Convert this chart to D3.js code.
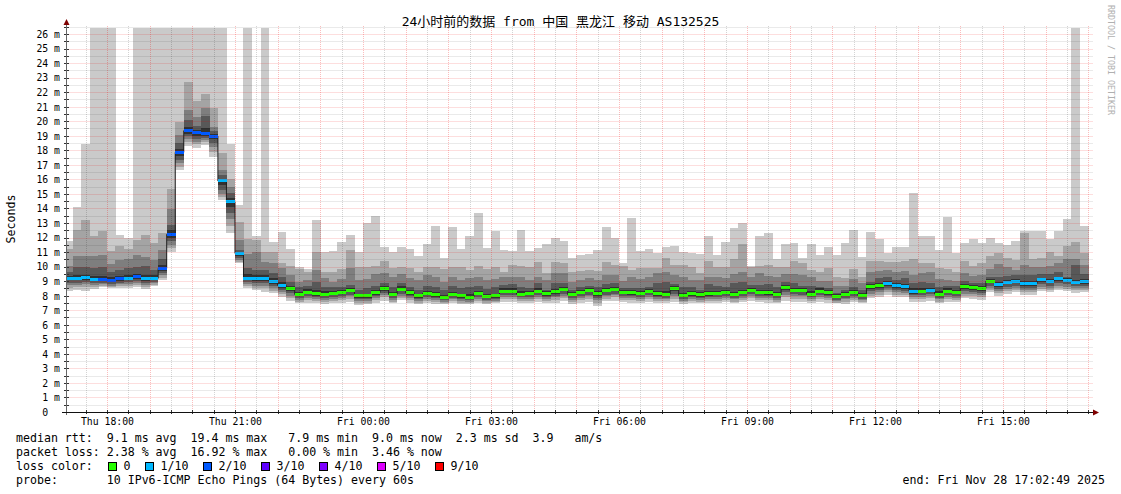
<!DOCTYPE html>
<html>
<head>
<meta charset="utf-8">
<script src="https://cdn.jsdelivr.net/npm/d3@7"></script>
<style>
  body { margin: 0; background: #fff; }
  svg text { font-family: "DejaVu Sans Mono", "Noto Sans CJK SC", monospace; fill: #000; }
  .pre { white-space: pre; }
</style>
</head>
<body>
<svg id="chart" width="1121" height="494"></svg>
<script>
// 10 pings per 12-minute slot, sorted low (ping1) to high (ping10), in ms. 30 = off the top of the chart
const ping1 = [8.3,8.4,8.35,8.45,8.6,8.5,8.5,8.5,8.6,8.45,8.65,9.08,11.0,16.64,18.3,18.13,18.36,17.56,14.58,12.3,10.22,8.5,8.4,8.28,8.2,7.93,
  7.66,7.47,7.5,7.5,7.45,7.5,7.52,7.6,7.36,7.4,7.52,7.66,7.47,7.7,7.52,7.43,7.47,7.45,7.43,7.5,7.43,7.43,7.5,7.43,7.47,7.6,7.6,7.5,
  7.5,7.6,7.47,7.52,7.66,7.43,7.52,7.6,7.29,7.66,7.66,7.6,7.52,7.52,7.6,7.52,7.52,7.6,7.43,7.52,7.47,7.52,7.52,7.6,7.47,7.6,7.66,7.6,
  7.52,7.47,7.66,7.6,7.6,7.52,7.6,7.52,7.47,7.43,7.6,7.47,7.82,7.93,8.05,7.93,7.9,7.6,7.6,7.66,7.47,7.6,7.56,7.82,7.78,7.72,8.22,8.0,
  8.15,8.22,8.08,8.08,8.3,8.22,8.38,8.3,8.2,8.22];
const ping2 = [8.55,8.6,8.6,8.6,8.7,8.6,8.65,8.65,8.75,8.6,8.75,9.25,11.25,16.85,18.55,18.4,18.55,17.9,14.8,12.8,10.35,8.65,8.55,8.5,8.35,8.1,
  7.85,7.6,7.7,7.65,7.6,7.65,7.7,7.8,7.5,7.52,7.7,7.9,7.6,7.85,7.7,7.5,7.65,7.58,7.5,7.62,7.52,7.5,7.65,7.52,7.55,7.78,7.78,7.64,
  7.65,7.78,7.65,7.72,7.85,7.6,7.7,7.8,7.5,7.8,7.88,7.72,7.7,7.65,7.78,7.65,7.62,7.8,7.55,7.65,7.6,7.65,7.66,7.72,7.6,7.72,7.82,7.72,
  7.7,7.6,7.88,7.8,7.8,7.64,7.78,7.7,7.52,7.6,7.72,7.58,8.0,8.08,8.22,8.08,8.05,7.76,7.78,7.82,7.6,7.78,7.72,8.0,7.95,7.9,8.4,8.18,
  8.32,8.4,8.25,8.25,8.48,8.4,8.55,8.48,8.38,8.4];
const ping3 = [8.75,8.75,8.8,8.72,8.78,8.7,8.78,8.8,8.9,8.75,8.85,9.4,11.5,17.1,18.75,18.6,18.7,18.2,15.0,13.3,10.45,8.8,8.7,8.7,8.5,8.25,
  8.0,7.72,7.85,7.78,7.72,7.78,7.85,7.95,7.62,7.65,7.82,8.05,7.72,8.0,7.82,7.62,7.78,7.7,7.58,7.75,7.65,7.58,7.78,7.62,7.65,7.92,7.92,7.76,
  7.78,7.92,7.78,7.88,8.0,7.72,7.85,7.95,7.7,7.95,8.02,7.85,7.82,7.78,7.92,7.78,7.75,7.98,7.66,7.78,7.72,7.78,7.8,7.86,7.75,7.86,7.96,7.86,
  7.82,7.72,8.06,7.96,7.95,7.76,7.92,7.82,7.62,7.74,7.86,7.7,8.15,8.22,8.38,8.22,8.2,7.9,7.92,7.96,7.74,7.92,7.86,8.15,8.1,8.05,8.55,8.32,
  8.48,8.55,8.4,8.4,8.62,8.55,8.7,8.62,8.52,8.54];
const ping4 = [8.9,8.9,8.95,8.85,8.88,8.8,8.9,8.92,9.02,8.88,8.95,9.55,11.75,17.35,18.95,18.8,18.85,18.5,15.3,13.7,10.6,8.92,8.85,8.85,8.65,8.4,
  8.2,7.85,7.98,7.9,7.85,7.9,7.98,8.08,7.75,7.75,7.95,8.18,7.85,8.15,7.95,7.75,7.9,7.82,7.68,7.85,7.75,7.68,7.9,7.72,7.75,8.05,8.05,7.88,
  7.9,8.05,7.9,8.0,8.15,7.85,7.98,8.08,7.85,8.08,8.15,7.98,7.95,7.9,8.05,7.9,7.85,8.15,7.78,7.9,7.82,7.9,7.92,7.98,7.85,7.98,8.1,7.98,
  7.95,7.85,8.22,8.1,8.08,7.88,8.05,7.95,7.72,7.86,7.98,7.8,8.3,8.38,8.52,8.38,8.35,8.02,8.05,8.1,7.86,8.05,7.98,8.3,8.25,8.2,8.7,8.48,
  8.62,8.7,8.55,8.55,8.78,8.7,8.85,8.78,8.66,8.68];
const ping5 = [9.05,9.05,9.1,8.98,8.98,8.92,9.02,9.05,9.15,9.0,9.05,9.7,12.0,17.6,19.15,19.0,19.0,18.75,15.6,14.1,10.75,9.05,9.0,9.0,8.8,8.55,
  8.35,7.95,8.1,8.0,7.95,8.02,8.1,8.22,7.85,7.85,8.08,8.32,7.95,8.3,8.08,7.85,8.02,7.92,7.78,7.95,7.85,7.78,8.02,7.82,7.85,8.18,8.18,7.98,
  8.02,8.18,8.0,8.12,8.3,7.95,8.1,8.22,8.0,8.22,8.3,8.1,8.08,8.02,8.18,8.0,7.95,8.32,7.88,8.0,7.92,8.0,8.05,8.1,7.95,8.1,8.24,8.1,
  8.08,7.95,8.38,8.24,8.22,7.98,8.18,8.08,7.82,7.98,8.1,7.9,8.45,8.52,8.68,8.52,8.48,8.15,8.18,8.24,7.98,8.18,8.1,8.45,8.4,8.35,8.85,8.62,
  8.78,8.85,8.7,8.7,8.92,8.85,9.0,8.92,8.8,8.82];
const ping6 = [9.35,9.42,9.45,9.35,9.35,9.3,9.35,9.4,9.5,9.45,9.45,10.1,12.5,18.1,19.6,19.4,19.5,19.1,16.05,14.7,11.0,9.5,9.4,9.4,9.2,8.95,
  8.7,8.28,8.45,8.4,8.3,8.35,8.42,8.55,8.15,8.15,8.4,8.65,8.28,8.65,8.38,8.15,8.35,8.25,8.08,8.28,8.15,8.1,8.35,8.12,8.15,8.5,8.5,8.3,
  8.35,8.5,8.3,8.45,8.6,8.25,8.4,8.52,8.3,8.52,8.6,8.4,8.38,8.32,8.48,8.32,8.3,8.65,8.18,8.3,8.22,8.32,8.35,8.42,8.28,8.42,8.55,8.4,
  8.4,8.25,8.72,8.55,8.52,8.3,8.5,8.38,8.1,8.28,8.42,8.2,8.78,8.85,9.0,8.85,8.8,8.5,8.5,8.55,8.3,8.5,8.42,8.78,8.72,8.68,9.15,8.95,
  9.08,9.15,9.02,9.02,9.25,9.18,9.32,9.2,9.1,9.12];
const ping7 = [9.6,10.0,9.95,9.9,9.95,9.6,9.75,9.9,10.0,10.05,9.8,10.5,12.85,18.5,20.1,19.67,20.35,19.3,16.3,15.05,11.15,9.9,9.77,9.75,9.55,9.3,
  8.96,8.57,8.67,8.96,8.62,8.57,8.62,8.73,8.39,8.5,8.67,8.85,8.57,8.9,8.57,8.39,8.67,8.57,8.39,8.67,8.5,8.62,8.67,8.44,8.57,8.73,8.8,8.57,
  8.5,8.85,8.39,8.9,8.85,8.39,8.57,8.67,8.57,8.8,8.85,8.5,8.5,8.5,8.62,8.85,8.96,8.8,8.62,8.62,8.39,8.8,8.67,8.57,8.9,8.96,8.73,8.73,
  8.8,8.57,8.96,8.85,8.67,8.67,8.62,8.5,8.16,8.39,8.57,8.39,8.96,9.19,9.26,9.08,9.2,8.85,8.96,8.9,8.6,8.7,8.65,9.0,8.9,8.85,9.3,9.3,
  9.35,9.4,9.4,9.4,9.5,9.5,9.6,9.3,10.13,9.5];
const ping8 = [10.05,10.73,10.75,10.7,10.8,10.2,10.45,10.55,10.8,10.65,10.45,11.15,13.95,19.05,20.77,20.3,20.88,19.62,16.64,15.5,11.85,10.9,11.0,10.34,10.22,9.88,
  9.42,8.96,9.08,9.77,9.19,8.96,9.12,9.88,9.08,9.12,9.49,9.54,9.31,9.49,9.19,9.08,9.42,9.31,8.96,9.31,9.08,9.19,9.31,9.08,9.12,9.26,9.31,9.31,
  9.08,9.31,9.08,9.54,9.54,8.96,9.08,9.19,9.08,9.42,9.42,9.03,9.26,9.12,9.26,9.54,9.65,9.42,9.31,9.08,9.08,9.31,9.26,9.19,9.49,9.65,9.26,9.58,
  9.35,9.26,9.49,9.49,9.42,9.31,9.03,9.03,8.67,8.67,9.12,8.85,9.65,9.72,9.77,9.65,9.72,9.42,9.58,9.63,9.12,9.08,9.03,9.54,9.38,9.42,9.83,10.2,
  9.95,9.8,10.1,9.95,9.95,10.04,10.22,10.55,10.55,10.1];
const ping9 = [11.2,12.5,13.2,12.1,12.45,11.05,11.4,11.2,11.85,12.17,11.6,12.3,15.35,19.97,22.72,21.39,21.87,20.93,17.84,16.0,13.1,11.88,11.83,11.03,11.03,10.22,
  10.04,9.81,9.65,11.03,9.65,9.65,9.81,11.14,10.0,10.0,10.04,10.39,9.88,9.95,9.88,9.65,9.95,9.95,9.81,10.0,9.95,9.77,10.04,9.81,10.0,9.65,10.11,10.04,
  10.0,10.34,9.58,10.34,10.27,9.65,9.72,9.77,9.72,10.34,10.11,10.04,9.77,9.88,9.88,9.88,10.57,10.11,10.11,9.95,9.54,10.41,9.95,10.0,10.5,11.55,9.95,10.04,
  10.11,9.95,9.95,10.41,10.27,9.77,9.65,9.88,9.31,9.19,9.81,9.31,10.41,10.41,10.34,10.34,10.41,10.5,10.27,10.22,9.88,9.81,9.65,10.41,10.06,10.27,10.73,10.96,
  10.57,10.45,12.33,10.55,10.6,11.0,10.73,11.4,11.7,10.96];
const ping10 = [11.76,14.08,18.43,30,30,30,12.17,11.94,30,30,30,30,30,30,30,30,30,30,30,18.43,14.24,30,12.1,30,11.71,12.4,
  11.21,9.95,9.81,13.2,11.03,11.1,11.71,12.17,11.03,13.02,13.5,11.37,11.03,11.32,11.19,10.73,11.55,12.79,10.57,12.75,11.19,12.1,13.71,11.26,12.47,11.14,11.1,12.52,
  11.07,11.26,11.53,11.99,11.76,10.57,10.8,10.87,11.14,12.75,11.99,10.27,13.37,11.07,11.21,10.91,11.32,11.44,11.03,10.96,10.87,12.1,10.78,11.69,12.68,13.02,10.06,12.1,
  12.33,10.52,11.55,11.65,10.57,11.55,10.8,11.32,10.8,11.6,12.52,10.64,12.4,11.88,10.96,11.37,11.37,15.08,12.1,12.1,11.14,13.43,10.96,11.65,11.88,11.65,12.0,11.65,
  11.48,11.76,12.45,12.45,12.45,11.88,12.45,13.27,30,12.8];
const median = [9.19,9.19,9.24,9.1,9.08,9.03,9.17,9.19,9.31,9.15,9.19,9.88,12.22,17.86,19.35,19.21,19.17,18.98,15.89,14.47,10.91,9.19,9.15,9.19,8.96,8.71,
  8.5,8.09,8.23,8.14,8.09,8.16,8.25,8.37,7.98,7.98,8.21,8.48,8.09,8.46,8.21,7.98,8.16,8.05,7.89,8.09,7.98,7.89,8.16,7.93,7.98,8.32,8.32,8.11,
  8.16,8.32,8.14,8.28,8.46,8.07,8.23,8.37,8.14,8.37,8.46,8.23,8.21,8.16,8.32,8.14,8.09,8.5,8.0,8.14,8.05,8.14,8.18,8.25,8.09,8.25,8.39,8.23,
  8.23,8.07,8.55,8.39,8.37,8.11,8.32,8.21,7.93,8.11,8.25,8.02,8.6,8.67,8.83,8.67,8.62,8.3,8.32,8.39,8.11,8.32,8.25,8.6,8.55,8.5,9.0,8.78,
  8.92,9.0,8.85,8.85,9.08,9.0,9.15,9.06,8.94,8.96];
// lost pings out of 10 in each slot
const lossCount = [1,1,1,1,2,2,2,1,2,1,1,2,2,2,2,2,2,2,1,1,1,1,1,1,1,1,
  0,0,0,0,0,0,0,0,0,0,0,0,0,0,0,0,0,0,0,0,0,0,0,0,0,0,0,0,
  0,0,0,0,0,0,0,0,0,0,0,0,0,0,0,0,0,0,0,0,0,0,0,0,0,0,0,0,
  0,0,0,0,0,0,0,0,0,0,0,0,0,0,1,1,1,1,0,1,0,0,0,0,0,0,0,1,1,1,
  1,1,1,1,1,1,1,1,1,1];

const lossSteps = [0, 1, 2, 3, 4, 5, 9];
const lossLabels = ["0", "1/10", "2/10", "3/10", "4/10", "5/10", "9/10"];
const lossColors = ["#26ff00", "#00b8ff", "#0059ff", "#5e00ff", "#7e00ff", "#dd00ff", "#ff0000"];

const yTicks = d3.range(0, 27);
const xTickLabels = ["Thu 18:00", "Thu 21:00", "Fri 00:00", "Fri 03:00", "Fri 06:00", "Fri 09:00", "Fri 12:00", "Fri 15:00"];

const titleText = "24小时前的数据 from 中国 黑龙江 移动 AS132525";
const statLines = [
  "median rtt:  9.1 ms avg  19.4 ms max   7.9 ms min  9.0 ms now  2.3 ms sd  3.9   am/s",
  "packet loss: 2.38 % avg  16.92 % max   0.00 % min  3.46 % now"
];
const probeLine = "probe:       10 IPv6-ICMP Echo Pings (64 Bytes) every 60s";
const endLine = "end: Fri Nov 28 17:02:49 2025";

// time frame
const slotMs = 12 * 60 * 1000;
const firstSlot = Date.UTC(2025, 10, 27, 17, 0, 0);
const viewStart = new Date(Date.UTC(2025, 10, 27, 17, 2, 49));
const viewEnd = new Date(Date.UTC(2025, 10, 28, 17, 2, 49));

const svg = d3.select("#chart");
const pLeft = 66.5, pRight = 1090.3, pBottom = 412, pTop = 26;

const x = d3.scaleUtc().domain([viewStart, viewEnd]).range([66.3, 1090.3]);
const y = d3.scaleLinear().domain([0, 26.55]).range([pBottom, pTop]);

const pings = [ping1, ping2, ping3, ping4, ping5, ping6, ping7, ping8, ping9, ping10];
const slots = median.map((m, i) => ({
  t0: new Date(firstSlot + i * slotMs),
  t1: new Date(firstSlot + (i + 1) * slotMs),
  med: m,
  loss: lossCount[i],
  p: pings.map(a => a[i])
}));

svg.append("defs").append("clipPath").attr("id", "plot")
  .append("rect").attr("x", pLeft).attr("y", 28).attr("width", pRight - pLeft).attr("height", pBottom - 28);

const plot = svg.append("g").attr("clip-path", "url(#plot)");

// smoke: outer pair lightest, inner pair darkest
const smokeColors = ["#cacaca", "#a4a4a4", "#7e7e7e", "#585858", "#323232"];
smokeColors.forEach(function(col, j) {
  plot.append("g").attr("shape-rendering", "crispEdges")
    .selectAll("rect").data(slots).enter().append("rect")
    .attr("x", d => x(d.t0))
    .attr("width", d => x(d.t1) - x(d.t0) + 0.3)
    .attr("y", d => y(d.p[9 - j]))
    .attr("height", d => y(d.p[j]) - y(d.p[9 - j]))
    .attr("fill", col);
});

// grid, drawn over the smoke like rrdtool does
const grid = svg.append("g").attr("fill", "none").attr("stroke-width", 1).attr("stroke-dasharray", "1,1");
const halfHours = x.ticks(d3.utcMinute.every(30));
const hours = x.ticks(d3.utcHour.every(1));
const minorY = d3.range(0.5, 26.6, 1);
const minorStroke = "rgba(0,0,0,0.17)", majorStroke = "rgba(240,0,0,0.26)";

grid.selectAll(".vmin").data(halfHours.filter(t => t.getUTCMinutes() === 30)).enter().append("line")
  .attr("x1", d => Math.round(x(d)) + 0.5).attr("x2", d => Math.round(x(d)) + 0.5)
  .attr("y1", pTop).attr("y2", pBottom).attr("stroke", minorStroke);
grid.selectAll(".hmin").data(minorY).enter().append("line")
  .attr("x1", pLeft).attr("x2", 1093)
  .attr("y1", d => Math.round(y(d)) + 0.5).attr("y2", d => Math.round(y(d)) + 0.5)
  .attr("stroke", minorStroke);
grid.selectAll(".vmaj").data(hours).enter().append("line")
  .attr("x1", d => Math.round(x(d)) + 0.5).attr("x2", d => Math.round(x(d)) + 0.5)
  .attr("y1", pTop).attr("y2", pBottom).attr("stroke", majorStroke);
grid.selectAll(".hmaj").data(yTicks.slice(1)).enter().append("line")
  .attr("x1", pLeft).attr("x2", 1093)
  .attr("y1", d => Math.round(y(d)) + 0.5).attr("y2", d => Math.round(y(d)) + 0.5)
  .attr("stroke", majorStroke);

// median line and loss coloured band
const medLine = d3.line().curve(d3.curveStepAfter)
  .x(d => x(d[0])).y(d => y(d[1]));
const medPts = slots.map(d => [d.t0, d.med]).concat([[slots[slots.length - 1].t1, median[median.length - 1]]]);
plot.append("path").attr("d", medLine(medPts))
  .attr("fill", "none").attr("stroke", "#202020").attr("stroke-width", 1);

plot.append("g").attr("shape-rendering", "crispEdges")
  .selectAll("rect").data(slots).enter().append("rect")
  .attr("x", d => x(d.t0))
  .attr("width", d => x(d.t1) - x(d.t0) + 0.3)
  .attr("y", d => y(d.med) - 1.5)
  .attr("height", 3)
  .attr("fill", d => lossColors[lossSteps.indexOf(d.loss)]);

// axes
const yAxis = svg.append("g").attr("transform", "translate(60,0)")
  .call(d3.axisLeft(y).tickValues(yTicks).tickSize(0).tickPadding(0)
    .tickFormat(d => d === 0 ? "0\u00a0\u00a0" : d + "\u00a0m"));
yAxis.select(".domain").remove();
yAxis.selectAll("text").attr("font-size", "9.8px").attr("dy", "0.34em")
  .attr("font-family", "DejaVu Sans Mono");

const xTickTimes = x.ticks(d3.utcHour.every(3));
const xAxis = svg.append("g").attr("transform", "translate(0," + pBottom + ")")
  .call(d3.axisBottom(x).tickValues(xTickTimes).tickSize(0).tickPadding(6)
    .tickFormat((d, i) => xTickLabels[i]));
xAxis.select(".domain").remove();
xAxis.selectAll("text").attr("font-size", "9.8px").attr("font-family", "DejaVu Sans Mono");

// tick marks
svg.append("g").attr("stroke", "#333").attr("shape-rendering", "crispEdges")
  .selectAll("line").data(halfHours).enter().append("line")
  .attr("x1", d => Math.round(x(d)) + 0.5).attr("x2", d => Math.round(x(d)) + 0.5)
  .attr("y1", pBottom - 2).attr("y2", pBottom + 2);
svg.append("g").attr("stroke", "#333").attr("shape-rendering", "crispEdges")
  .selectAll("line").data(minorY.concat(yTicks)).enter().append("line")
  .attr("x1", 64).attr("x2", 69)
  .attr("y1", d => Math.round(y(d)) + 0.5).attr("y2", d => Math.round(y(d)) + 0.5);

svg.append("line").attr("x1", 66.5).attr("x2", 66.5).attr("y1", 415).attr("y2", 24)
  .attr("stroke", "#666").attr("shape-rendering", "crispEdges");
svg.append("line").attr("x1", 62).attr("x2", 1094).attr("y1", 412.5).attr("y2", 412.5)
  .attr("stroke", "#111");
svg.append("path").attr("d", "M63.5,25L66.5,19L69.5,25Z").attr("fill", "#7f0000");
svg.append("path").attr("d", "M1093,409.5L1099,412.5L1093,415.5Z").attr("fill", "#7f0000");

// titles
svg.append("text").attr("x", 560.5).attr("y", 25.5).attr("text-anchor", "middle")
  .attr("font-size", "13px").text(titleText);
svg.append("text").attr("transform", "translate(11,219) rotate(-90)")
  .attr("text-anchor", "middle").attr("dominant-baseline", "central")
  .attr("font-size", "11.6px").text("Seconds");
svg.append("text").attr("transform", "translate(1108,5) rotate(90)")
  .attr("font-size", "8.3px").style("fill", "#b0b0b0").text("RRDTOOL / TOBI OETIKER");

// legend
const legend = svg.append("g").attr("font-size", "11.6px");
statLines.forEach(function(s, i) {
  legend.append("text").attr("class", "pre").attr("x", 16).attr("y", 442 + i * 14).text(s);
});
legend.append("text").attr("class", "pre").attr("x", 16).attr("y", 470).text("loss color:");
let bx = 108;
lossLabels.forEach(function(lab, i) {
  legend.append("rect").attr("x", bx + 0.5).attr("y", 462.5).attr("width", 8).attr("height", 8)
    .attr("fill", lossColors[i]).attr("stroke", "#000");
  legend.append("text").attr("x", bx + 15.5).attr("y", 470).text(lab);
  bx = bx + 15.5 + lab.length * 7 + 14.5;
});
legend.append("text").attr("class", "pre").attr("x", 16).attr("y", 484).text(probeLine);
legend.append("text").attr("class", "pre").attr("x", 1105).attr("y", 484)
  .attr("text-anchor", "end").text(endLine);
</script>
</body>
</html>
